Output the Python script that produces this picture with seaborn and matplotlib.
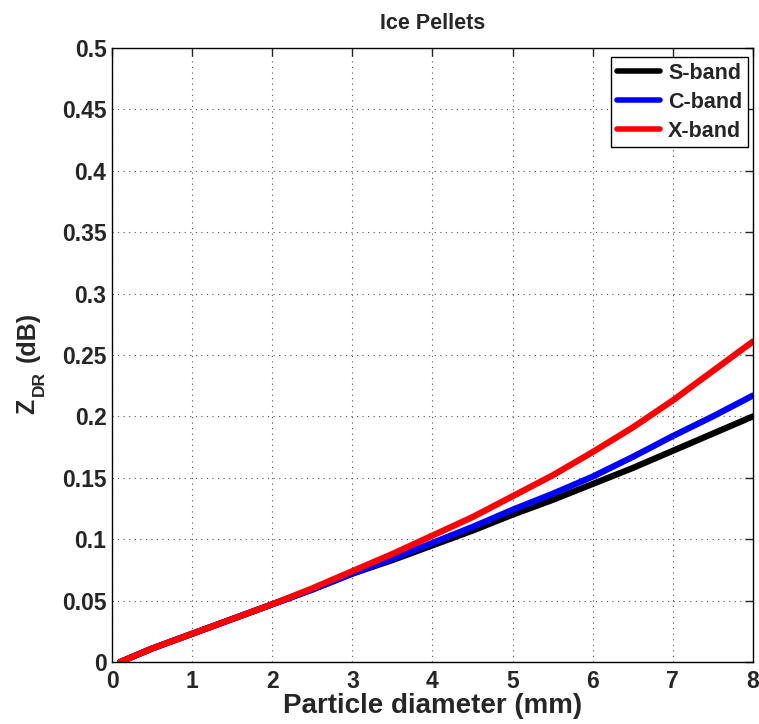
import numpy as np
import pandas as pd
import matplotlib
matplotlib.use("Agg")
import matplotlib.pyplot as plt
import seaborn as sns

diameter = [0.1, 0.5, 1, 1.5, 2, 2.5, 3, 3.5, 4, 4.5, 5, 5.5, 6, 6.5, 7, 7.5, 8]
s_band = [0.0, 0.011, 0.023, 0.035, 0.047, 0.059, 0.072, 0.083, 0.095, 0.107, 0.120, 0.132, 0.145, 0.158, 0.172, 0.186, 0.200]
c_band = [0.0, 0.011, 0.023, 0.035, 0.047, 0.059, 0.072, 0.084, 0.097, 0.110, 0.124, 0.137, 0.151, 0.167, 0.184, 0.200, 0.217]
x_band = [0.0, 0.011, 0.023, 0.035, 0.047, 0.060, 0.074, 0.088, 0.103, 0.118, 0.135, 0.152, 0.171, 0.191, 0.213, 0.237, 0.261]
band_names = ["S-band", "C-band", "X-band"]
band_colors = ["#000000", "#0000ff", "#ff0000"]
x_ticks = [0, 1, 2, 3, 4, 5, 6, 7, 8]
y_ticks = [0, 0.05, 0.1, 0.15, 0.2, 0.25, 0.3, 0.35, 0.4, 0.45, 0.5]
y_tick_labels = ["0", "0.05", "0.1", "0.15", "0.2", "0.25", "0.3", "0.35", "0.4", "0.45", "0.5"]

df = pd.concat([
    pd.DataFrame({"D": diameter, "Z": vals, "band": name})
    for name, vals in zip(band_names, [s_band, c_band, x_band])
])

sns.set_style("white")
plt.rcParams["font.family"] = ["Liberation Sans", "DejaVu Sans"]
plt.rcParams["font.weight"] = "bold"

W, H = 759, 724
fig = plt.figure(figsize=(W / 100, H / 100), dpi=100)
ax = fig.add_axes([0.1476, 0.0856, 0.8444, 0.8481])

sns.lineplot(data=df, x="D", y="Z", hue="band", palette=dict(zip(band_names, band_colors)),
             linewidth=4.5, ax=ax, legend=True, sort=False)

ax.set_xlim(0, 8)
ax.set_ylim(0, 0.5)
ax.set_xticks(x_ticks)
ax.set_xticklabels([str(t) for t in x_ticks])
ax.set_yticks(y_ticks)
ax.set_yticklabels(y_tick_labels)
ax.grid(True, linestyle=(0, (1, 4)), color="#555555", linewidth=0.8)
ax.tick_params(direction="in", length=6, width=1, top=True, right=True,
               labelsize=16.5)
ax.tick_params(axis="y", pad=4)
ax.tick_params(axis="x", pad=6)
for lab in ax.get_xticklabels() + ax.get_yticklabels():
    lab.set_fontweight("bold")
for sp in ax.spines.values():
    sp.set_color("black")
    sp.set_linewidth(1)

ax.set_xlabel("Particle diameter (mm)", fontsize=20, fontweight="bold", labelpad=0)
ax.set_ylabel("")


def ptext(px, py, s, size):
    fig.text(px / W, 1 - py / H, s, rotation=90, rotation_mode="anchor",
             ha="left", va="baseline", fontsize=size, fontweight="heavy")


# y label: Z with subscript DR, then (dB)
ptext(34, 414, "Z", 18)
ptext(44, 396, "DR", 12.5)
ptext(35, 362, "(dB)", 18)

ax.set_title("Ice Pellets", fontsize=15.5, fontweight="heavy", pad=14)

leg = ax.legend(loc="upper right", fontsize=15.5, frameon=True, fancybox=False,
                edgecolor="black", framealpha=1, handlelength=2.0,
                bbox_to_anchor=(0.992, 0.985),
                borderaxespad=0.0, labelspacing=0.38, borderpad=0.25, handletextpad=0.4)
leg.get_frame().set_linewidth(1)
for t in leg.get_texts():
    t.set_fontweight("bold")
for h in leg.get_lines():
    h.set_linewidth(4)

fig.savefig("out.png", dpi=100)
